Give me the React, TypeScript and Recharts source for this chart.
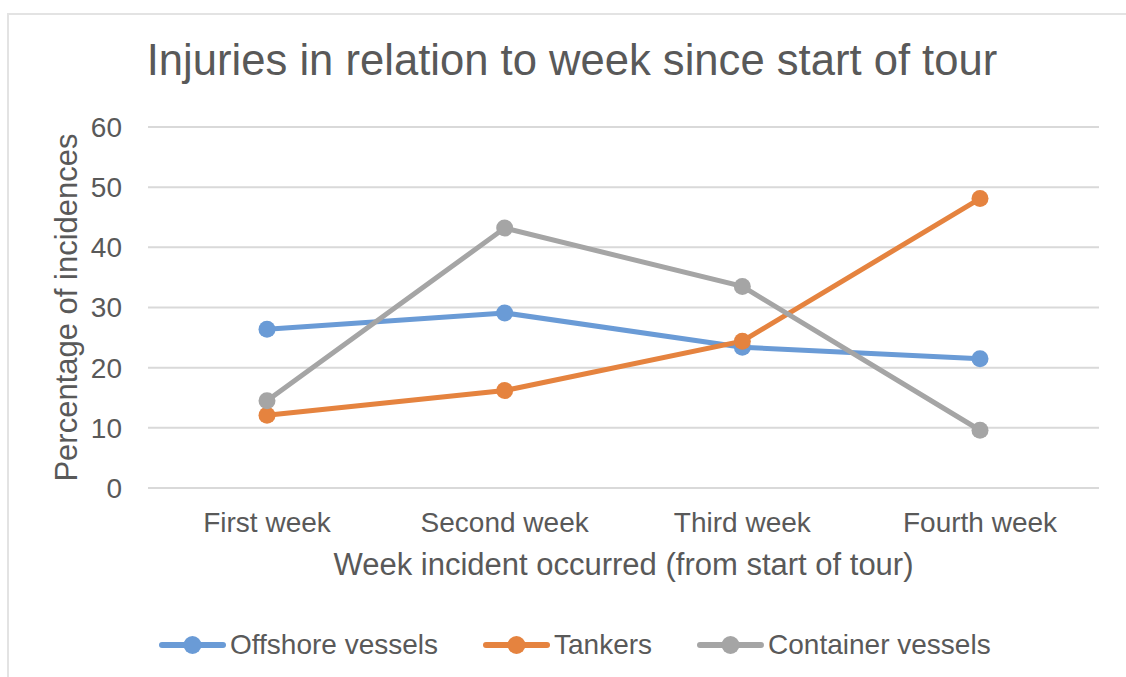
import React from "react";
import {
  LineChart,
  Line,
  XAxis,
  YAxis,
  CartesianGrid,
  Legend,
} from "recharts";

const weeks = ["First week", "Second week", "Third week", "Fourth week"];
const offshore = [26.4, 29.1, 23.4, 21.5];
const tankers = [12.1, 16.2, 24.4, 48.1];
const container = [14.5, 43.2, 33.5, 9.6];
const yTicks = [0, 10, 20, 30, 40, 50, 60];

const seriesList = [
  { key: "offshore", name: "Offshore vessels", color: "#6A9BD6" },
  { key: "tankers", name: "Tankers", color: "#E5833F" },
  { key: "container", name: "Container vessels", color: "#A5A5A5" },
];

const data = weeks.map((week, i) => ({
  week,
  offshore: offshore[i],
  tankers: tankers[i],
  container: container[i],
}));

const font = "'Liberation Sans', Arial, Helvetica, sans-serif";
const textColor = "#595959";
const gridColor = "#D9D9D9";

function LegendBox() {
  return (
    <div
      style={{
        height: 40,
        display: "flex",
        alignItems: "center",
        paddingLeft: 159,
        fontFamily: font,
        fontSize: 28,
        color: textColor,
      }}
    >
      {seriesList.map((s, i) => (
        <div
          key={s.key}
          style={{
            display: "flex",
            alignItems: "center",
            marginRight: i < seriesList.length - 1 ? 45 : 0,
          }}
        >
          <svg width={67} height={20} style={{ marginRight: 4 }}>
            <line
              x1={3}
              y1={10}
              x2={64}
              y2={10}
              stroke={s.color}
              strokeWidth={6}
              strokeLinecap="round"
            />
            <circle cx={33.5} cy={10} r={9} fill={s.color} />
          </svg>
          <span style={{ lineHeight: "40px" }}>{s.name}</span>
        </div>
      ))}
    </div>
  );
}

export default function App() {
  return (
    <div
      style={{
        position: "absolute",
        left: 0,
        top: 0,
        width: 1126,
        height: 677,
        background: "#fff",
        fontFamily: font,
      }}
    >
      <div
        style={{
          position: "absolute",
          left: 7,
          top: 13,
          width: 1119,
          height: 664,
          borderTop: "2px solid #E3E3E3",
          borderLeft: "2px solid #E3E3E3",
        }}
      />
      <div
        style={{
          position: "absolute",
          left: 0,
          top: 34,
          width: 1144,
          textAlign: "center",
          fontSize: 43.6,
          color: textColor,
          lineHeight: "52px",
        }}
      >
        Injuries in relation to week since start of tour
      </div>
      <div style={{ position: "absolute", left: 0, top: 0 }}>
        <LineChart
          width={1126}
          height={677}
          data={data}
          margin={{ top: 127, right: 27, bottom: 12, left: 0 }}
          style={{ fontFamily: font }}
        >
          <CartesianGrid vertical={false} stroke={gridColor} strokeWidth={2} />
          <XAxis
            dataKey="week"
            height={137}
            padding={{ left: 119, right: 119 }}
            tickLine={false}
            axisLine={{ stroke: gridColor, strokeWidth: 2 }}
            tickMargin={18}
            interval={0}
            tick={{ fill: textColor, fontSize: 28 }}
            label={{
              value: "Week incident occurred (from start of tour)",
              position: "insideBottom",
              offset: 50,
              fill: textColor,
              fontSize: 31,
            }}
          />
          <YAxis
            width={148}
            domain={[0, 60]}
            ticks={yTicks}
            interval={0}
            tickLine={false}
            axisLine={false}
            tickMargin={20}
            tick={{ fill: textColor, fontSize: 28 }}
            label={{
              value: "Percentage of incidences",
              angle: -90,
              position: "center",
              dx: -8,
              fill: textColor,
              fontSize: 31,
            }}
          />
          <Legend
            verticalAlign="bottom"
            content={() => <LegendBox />}
            wrapperStyle={{ left: 0, width: 1126, bottom: 12 }}
          />
          {seriesList.map((s) => (
            <Line
              key={s.key}
              type="linear"
              dataKey={s.key}
              name={s.name}
              stroke={s.color}
              strokeWidth={5}
              dot={{ r: 8.5, fill: s.color, stroke: s.color, strokeWidth: 0 }}
              activeDot={false}
              isAnimationActive={false}
            />
          ))}
        </LineChart>
      </div>
    </div>
  );
}
